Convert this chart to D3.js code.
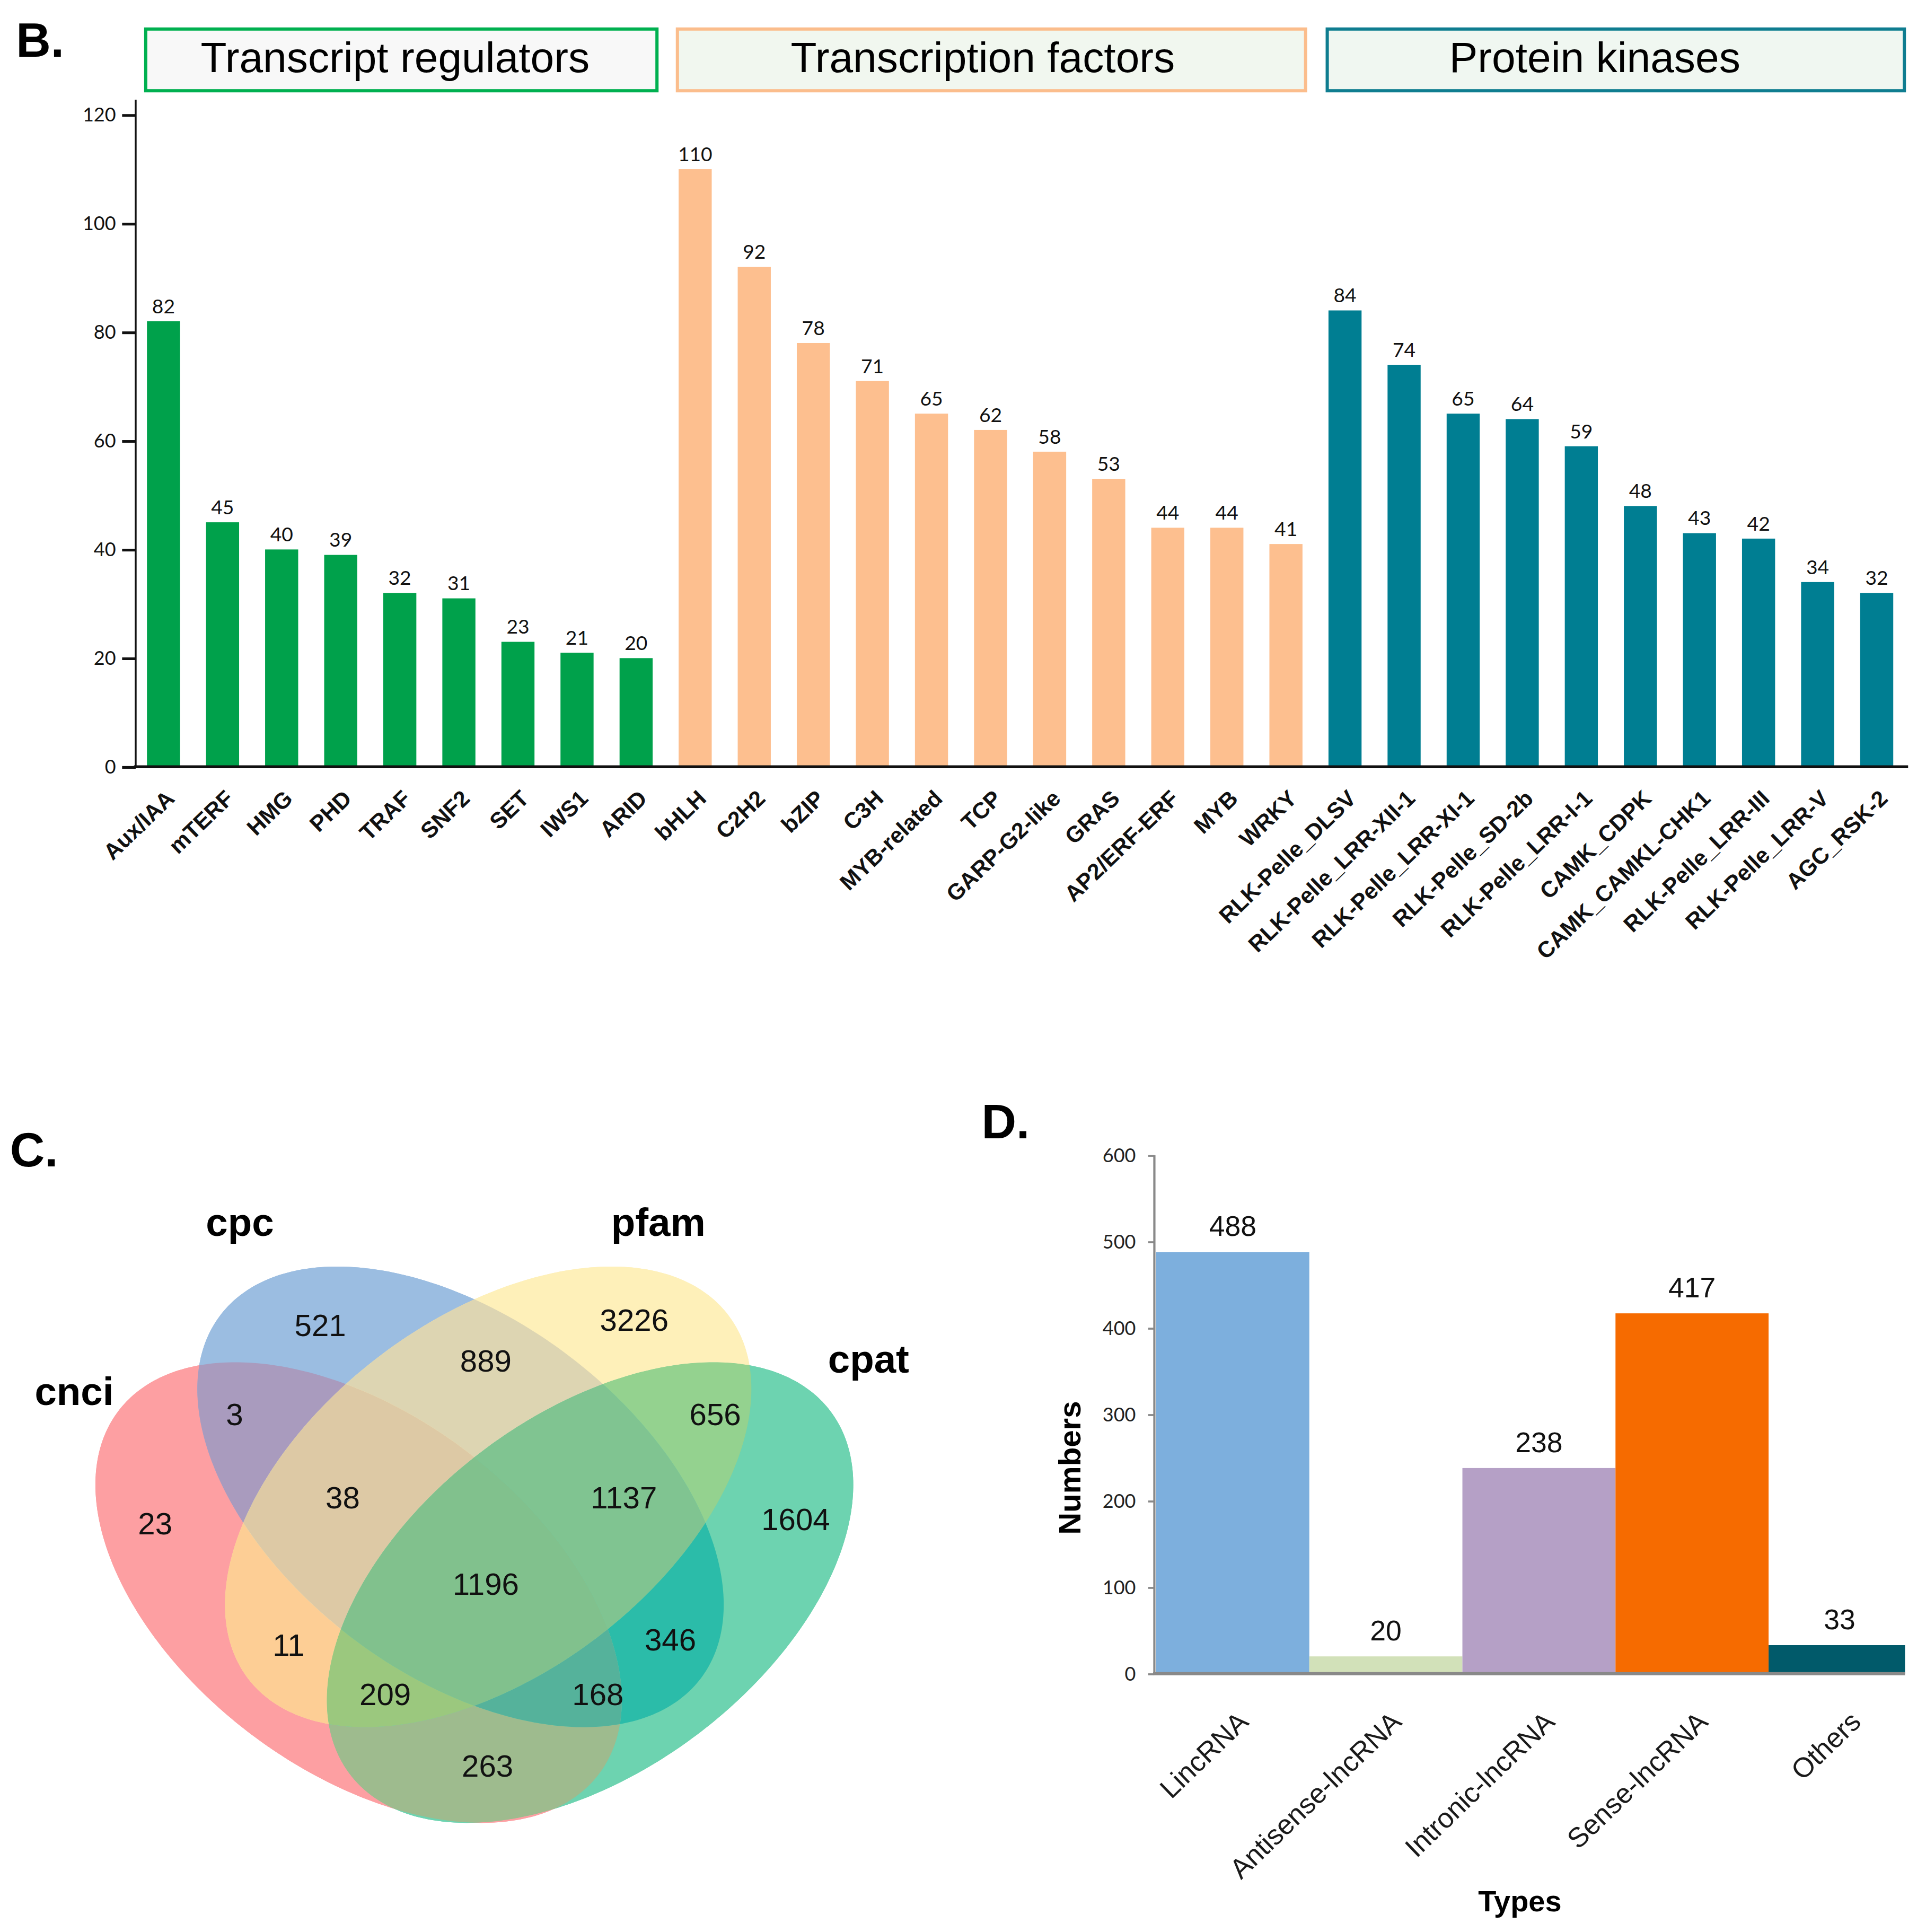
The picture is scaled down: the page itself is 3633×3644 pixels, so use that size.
<!DOCTYPE html>
<html>
<head>
<meta charset="utf-8">
<title>Gene families, coding potential and lncRNA types</title>
<script src="https://cdn.jsdelivr.net/npm/d3@7"></script>
<style>
  html, body { margin: 0; padding: 0; background: #fff; }
  svg { display: block; }
  text { font-family: "Liberation Sans", Arial, Helvetica, sans-serif; }
  .calib { font-family: Lato, "Liberation Sans", sans-serif; }
</style>
</head>
<body>
<div id="fig"></div>
<script>
// ---- B: gene families ----
var trNames = ["Aux/IAA", "mTERF", "HMG", "PHD", "TRAF", "SNF2", "SET", "IWS1", "ARID"];
var trValues = [82, 45, 40, 39, 32, 31, 23, 21, 20];
var tfNames = ["bHLH", "C2H2", "bZIP", "C3H", "MYB-related", "TCP", "GARP-G2-like", "GRAS",
               "AP2/ERF-ERF", "MYB", "WRKY"];
var tfValues = [110, 92, 78, 71, 65, 62, 58, 53, 44, 44, 41];
var pkNames = ["RLK-Pelle_DLSV", "RLK-Pelle_LRR-XII-1", "RLK-Pelle_LRR-XI-1", "RLK-Pelle_SD-2b",
               "RLK-Pelle_LRR-I-1", "CAMK_CDPK", "CAMK_CAMKL-CHK1", "RLK-Pelle_LRR-III",
               "RLK-Pelle_LRR-V", "AGC_RSK-2"];
var pkValues = [84, 74, 65, 64, 59, 48, 43, 42, 34, 32];
var groupNames = ["Transcript regulators", "Transcription factors", "Protein kinases"];
var yTicksB = [0, 20, 40, 60, 80, 100, 120];

// ---- C: venn of coding-potential tools ----
var vennSets = ["cnci", "cpc", "pfam", "cpat"];
var vennKeys = ["A", "B", "C", "D", "AB", "AC", "AD", "BC", "BD", "CD", "ABC", "ABD", "ACD", "BCD", "ABCD"];
var vennCounts = [23, 521, 3226, 1604, 3, 11, 263, 889, 346, 656, 38, 168, 209, 1137, 1196];

// ---- D: lncRNA types ----
var rnaTypes = ["LincRNA", "Antisense-lncRNA", "Intronic-lncRNA", "Sense-lncRNA", "Others"];
var rnaCounts = [488, 20, 238, 417, 33];
var yTicksD = [0, 100, 200, 300, 400, 500, 600];

var W = 1560, H = 1564.7;
var svg = d3.select("#fig").append("svg")
    .attr("width", 3633)
    .attr("height", 3644)
    .attr("viewBox", "0 0 " + W + " " + H);
var defs = svg.append("defs");

function panelLetter(t, x, y) {
  svg.append("text").attr("x", x).attr("y", y)
      .attr("font-size", 39).attr("font-weight", "bold").text(t);
}

// ================= B =================
panelLetter("B.", 13, 46);

var groups = [
  {name: groupNames[0], cats: trNames, vals: trValues, bar: "#00a14b", edge: "#00b050", bg: "#f8f8f8", padR: 3.5, dx: -5},
  {name: groupNames[1], cats: tfNames, vals: tfValues, bar: "#fdbf8f", edge: "#fbbd8c", bg: "#f1f7ef", padR: 2.5, dx: -7},
  {name: groupNames[2], cats: pkNames, vals: pkValues, bar: "#007e92", edge: "#0f7d90", bg: "#f0f7f1", padR: 9, dx: -17}
];

var barsB = [];
groups.forEach(function(g) {
  g.cats.forEach(function(c, i) { barsB.push({cat: c, val: g.vals[i], color: g.bar}); });
});

var xB = d3.scaleBand()
    .domain(barsB.map(function(d) { return d.cat; }))
    .range([108.5, 1544])
    .paddingInner(0.44)
    .paddingOuter(0.22);
var yB = d3.scaleLinear().domain([0, 120]).range([621, 93]);

// header boxes
var hdr = svg.append("g");
groups.forEach(function(g) {
  var x0 = xB(g.cats[0]) - 1,
      x1 = xB(g.cats[g.cats.length - 1]) + xB.bandwidth() + g.padR;
  hdr.append("rect")
      .attr("x", x0).attr("y", 23.5)
      .attr("width", x1 - x0).attr("height", 50)
      .attr("fill", g.bg)
      .attr("stroke", g.edge)
      .attr("stroke-width", 2.6);
  hdr.append("text")
      .attr("x", (x0 + x1) / 2 + g.dx).attr("y", 58.5)
      .attr("text-anchor", "middle")
      .attr("font-size", 34.5)
      .text(g.name);
});

svg.append("g").selectAll("rect")
    .data(barsB)
  .join("rect")
    .attr("x", function(d) { return xB(d.cat); })
    .attr("y", function(d) { return yB(d.val); })
    .attr("width", xB.bandwidth())
    .attr("height", function(d) { return yB(0) - yB(d.val); })
    .attr("fill", function(d) { return d.color; });

svg.append("g").selectAll("text")
    .data(barsB)
  .join("text")
    .attr("class", "calib")
    .attr("x", function(d) { return xB(d.cat) + xB.bandwidth() / 2; })
    .attr("y", function(d) { return yB(d.val) - 6.5; })
    .attr("text-anchor", "middle")
    .attr("font-size", 16)
    .attr("fill", "#111")
    .text(function(d) { return d.val; });

// y axis
var axB = svg.append("g")
    .attr("transform", "translate(109.9,0)")
    .call(d3.axisLeft(yB).tickValues(yTicksB).tickSize(11).tickPadding(5));
axB.select(".domain").remove();
axB.selectAll(".tick line").attr("stroke", "#111").attr("stroke-width", 2.2);
axB.selectAll(".tick text")
    .attr("class", "calib")
    .attr("font-size", 15.5)
    .attr("fill", "#111");
svg.append("line")
    .attr("x1", 109.9).attr("x2", 109.9)
    .attr("y1", yB(0)).attr("y2", yB(122.8))
    .attr("stroke", "#111").attr("stroke-width", 1.5);
svg.append("line")
    .attr("x1", 108.5).attr("x2", 1545.5)
    .attr("y1", yB(0)).attr("y2", yB(0))
    .attr("stroke", "#111").attr("stroke-width", 2.4);

// rotated category labels
svg.append("g").selectAll("text")
    .data(barsB)
  .join("text")
    .attr("transform", function(d) {
      return "translate(" + (xB(d.cat) + xB.bandwidth() / 2 + 10) + ",648) rotate(-44)";
    })
    .attr("text-anchor", "end")
    .attr("font-size", 18.3)
    .attr("font-weight", "bold")
    .attr("fill", "#111")
    .text(function(d) { return d.cat; });

// ================= C =================
panelLetter("C.", 8, 944.5);

// layout of the four ellipses (unit = 1px vertically, stretched 1.143 horizontally)
var vx = d3.scaleLinear().domain([-1, 1]).range([384.2 - 1.143, 384.2 + 1.143]);
var vy = d3.scaleLinear().domain([-1, 1]).range([1251 - 1, 1251 + 1]);
var ellA = 226, ellB = 136;
var ellipses = [
  {cu: -82, cv: 38.8, dir: 1},
  {cu: -9.8, cv: -38.7, dir: 1},
  {cu: 9.8, cv: -38.7, dir: -1},
  {cu: 82, cv: 38.8, dir: -1}
];
var vennFill = ["#fd9fa2", "#9bbde1", "#fef0b9", "#6dd3b0",
                "#a99bbe", "#fdce95", "#9ebb8e", "#ddd5b2", "#2bbca9", "#94d28f",
                "#ddc9a5", "#55b29b", "#9bc87e", "#80c491", "#81c18d"];
var vennLabelPos = [[125.7, 1233.7], [259.4, 1073.1], [513.7, 1068.7], [644.5, 1230.2],
                    [190, 1145.1], [233.8, 1331.9], [394.9, 1430], [393.5, 1101.9],
                    [543, 1327.5], [579.3, 1145.1], [277.6, 1212.7], [484.3, 1372],
                    [312, 1372], [505.3, 1212.7], [393.5, 1282.6]];
var setLabelPos = [[60.1, 1138], [194.3, 1001], [533.2, 1001], [703.5, 1111.5]];

var s2 = Math.SQRT1_2;
var ellLine = d3.line()
    .x(function(d) { return vx(d[0]); })
    .y(function(d) { return vy(d[1]); })
    .curve(d3.curveLinearClosed);
var ellPaths = ellipses.map(function(e) {
  var pts = d3.range(0, 360, 1).map(function(deg) {
    var t = deg * Math.PI / 180,
        p = ellA * Math.cos(t), q = ellB * Math.sin(t);
    return [e.cu + p * e.dir * s2 + q * s2, e.cv + p * s2 - q * e.dir * s2];
  });
  return ellLine(pts);
});

ellPaths.forEach(function(d, i) {
  defs.append("clipPath").attr("id", "vclip" + i).append("path").attr("d", d);
});

var venn = svg.append("g");
// underlay so anti-aliased seams blend in
ellPaths.forEach(function(d, i) {
  venn.append("path").attr("d", d).attr("fill", vennFill[i]);
});

vennKeys.forEach(function(key, r) {
  var members = key.split("").map(function(ch) { return "ABCD".indexOf(ch); });
  var mask = defs.append("mask").attr("id", "vmask" + r)
      .attr("maskUnits", "userSpaceOnUse")
      .attr("x", 0).attr("y", 900).attr("width", 800).attr("height", 660);
  mask.append("rect").attr("x", 0).attr("y", 900).attr("width", 800).attr("height", 660).attr("fill", "#fff");
  [0, 1, 2, 3].forEach(function(j) {
    if (members.indexOf(j) < 0) mask.append("path").attr("d", ellPaths[j]).attr("fill", "#000");
  });
  var g = venn;
  members.forEach(function(m) {
    g = g.append("g").attr("clip-path", "url(#vclip" + m + ")");
  });
  g.append("rect")
      .attr("x", 0).attr("y", 900).attr("width", 800).attr("height", 660)
      .attr("fill", vennFill[r])
      .attr("mask", "url(#vmask" + r + ")");
});

svg.append("g").selectAll("text")
    .data(vennCounts)
  .join("text")
    .attr("x", function(d, i) { return vennLabelPos[i][0]; })
    .attr("y", function(d, i) { return vennLabelPos[i][1] + 9; })
    .attr("text-anchor", "middle")
    .attr("font-size", 25)
    .attr("fill", "#111")
    .text(function(d) { return d; });

svg.append("g").selectAll("text")
    .data(vennSets)
  .join("text")
    .attr("x", function(d, i) { return setLabelPos[i][0]; })
    .attr("y", function(d, i) { return setLabelPos[i][1]; })
    .attr("text-anchor", "middle")
    .attr("font-size", 32)
    .attr("font-weight", "bold")
    .text(function(d) { return d; });

// ================= D =================
panelLetter("D.", 795, 922);

var rnaColors = ["#7dafdd", "#d2e1b9", "#b5a0c6", "#f66b00", "#015a6a"];
var xD = d3.scaleBand().domain(rnaTypes).range([936.5, 1556.5]).padding(0);
var yD = d3.scaleLinear().domain([0, 600]).range([1355.5, 935.6]);

defs.append("clipPath").attr("id", "dclip")
  .append("rect").attr("x", 930).attr("y", 900).attr("width", 1543 - 930).attr("height", 460);

svg.append("g").attr("clip-path", "url(#dclip)")
  .selectAll("rect")
    .data(rnaTypes)
  .join("rect")
    .attr("x", function(d) { return xD(d); })
    .attr("y", function(d, i) { return yD(rnaCounts[i]); })
    .attr("width", xD.bandwidth())
    .attr("height", function(d, i) { return yD(0) - yD(rnaCounts[i]); })
    .attr("fill", function(d, i) { return rnaColors[i]; });

svg.append("g").selectAll("text")
    .data(rnaTypes)
  .join("text")
    .attr("x", function(d) { return Math.min(xD(d) + xD.bandwidth() / 2, 1490); })
    .attr("y", function(d, i) { return yD(rnaCounts[i]) - 13; })
    .attr("text-anchor", "middle")
    .attr("font-size", 23)
    .attr("fill", "#111")
    .text(function(d, i) { return rnaCounts[i]; });

var axD = svg.append("g")
    .attr("transform", "translate(935,0)")
    .call(d3.axisLeft(yD).tickValues(yTicksD).tickSize(5).tickPadding(10));
axD.select(".domain").remove();
axD.selectAll(".tick line").attr("stroke", "#898989").attr("stroke-width", 1.6);
axD.selectAll(".tick text")
    .attr("class", "calib")
    .attr("font-size", 15.5)
    .attr("fill", "#222");
svg.append("line")
    .attr("x1", 935).attr("x2", 935)
    .attr("y1", yD(0)).attr("y2", yD(600))
    .attr("stroke", "#898989").attr("stroke-width", 1.8);
svg.append("line")
    .attr("x1", 934).attr("x2", 1543)
    .attr("y1", yD(0)).attr("y2", yD(0))
    .attr("stroke", "#898989").attr("stroke-width", 2.6);

svg.append("g").selectAll("text")
    .data(rnaTypes)
  .join("text")
    .attr("transform", function(d) {
      return "translate(" + (xD(d) + xD.bandwidth() / 2 + 14) + ",1396) rotate(-44)";
    })
    .attr("text-anchor", "end")
    .attr("font-size", 22.5)
    .attr("fill", "#1a1a1a")
    .text(function(d) { return d; });

svg.append("text")
    .attr("transform", "translate(875,1188.8) rotate(-90)")
    .attr("text-anchor", "middle")
    .attr("font-size", 25)
    .attr("font-weight", "bold")
    .text("Numbers");

svg.append("text")
    .attr("x", 1231).attr("y", 1548)
    .attr("text-anchor", "middle")
    .attr("font-size", 24)
    .attr("font-weight", "bold")
    .text("Types");
</script>
</body>
</html>
